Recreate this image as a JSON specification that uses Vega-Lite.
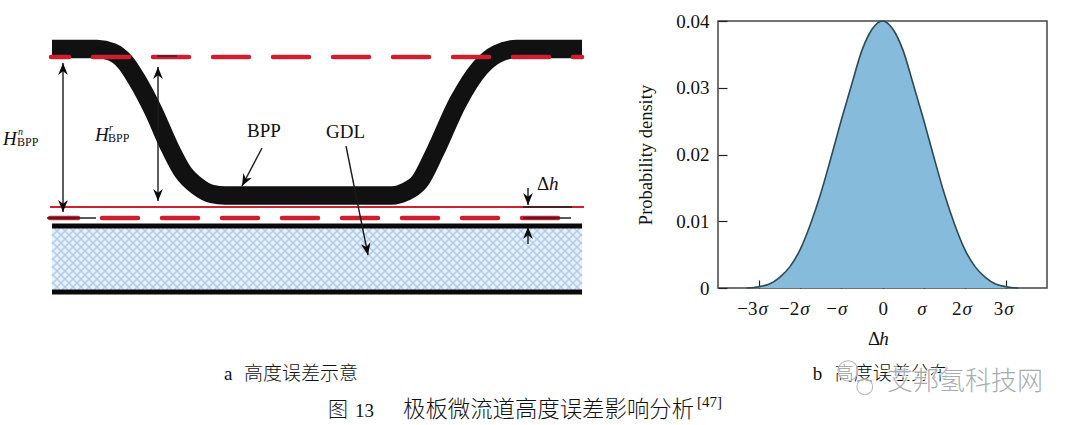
{
"$schema":"https://vega.github.io/schema/vega-lite/v6.json",
"background":"white",
"padding":{"left":0,"top":11,"right":0,"bottom":0},
"bounds":"flush",
"spacing":0,
"config":{"font":"Liberation Serif","view":{"continuousWidth":300}},
"datasets":{"hatch":[{"a":0.4,"b":12.8},{"a":2,"b":14.4},{"a":3.6,"b":16},{"a":5.2,"b":17.6},{"a":6.8,"b":19.2},{"a":8.4,"b":20.8},{"a":10,"b":22.4},{"a":11.6,"b":24},{"a":13.2,"b":25.6},{"a":14.8,"b":27.2},{"a":16.4,"b":28.8},{"a":18,"b":30.4},{"a":19.6,"b":32},{"a":21.2,"b":33.6},{"a":22.8,"b":35.2},{"a":24.4,"b":36.8},{"a":26,"b":38.4},{"a":27.6,"b":40},{"a":29.2,"b":41.6},{"a":30.8,"b":43.2},{"a":32.4,"b":44.8},{"a":34,"b":46.4},{"a":35.6,"b":48},{"a":37.2,"b":49.6},{"a":38.8,"b":51.2},{"a":40.4,"b":52.8},{"a":42,"b":54.4},{"a":43.6,"b":56},{"a":45.2,"b":57.6},{"a":46.8,"b":59.2},{"a":48.4,"b":60.8},{"a":50,"b":62.4},{"a":51.6,"b":64},{"a":53.2,"b":65.6},{"a":54.8,"b":67.2},{"a":56.4,"b":68.8},{"a":58,"b":70.4},{"a":59.6,"b":72},{"a":61.2,"b":73.6},{"a":62.8,"b":75.2},{"a":64.4,"b":76.8},{"a":66,"b":78.4},{"a":67.6,"b":80},{"a":69.2,"b":81.6},{"a":70.8,"b":83.2},{"a":72.4,"b":84.8},{"a":74,"b":86.4},{"a":75.6,"b":88},{"a":77.2,"b":89.6},{"a":78.8,"b":91.2},{"a":80.4,"b":92.8},{"a":82,"b":94.4},{"a":83.6,"b":96},{"a":85.2,"b":97.6},{"a":86.8,"b":99.2},{"a":88.4,"b":100.8},{"a":90,"b":102.4},{"a":91.6,"b":104},{"a":93.2,"b":105.6}]},
"hconcat":[
{"width":718,"height":267,"view":{"stroke":null},
"encoding":{
"x":{"type":"quantitative","scale":{"domain":[-10.4,133.2],"nice":false,"zero":false},"axis":null},
"y":{"type":"quantitative","scale":{"domain":[0,89],"nice":false,"zero":false},"axis":null}},
"layer":[
{"data":{"values":[{"a":0,"b":106,"lo":-0.67,"hi":20}]},"mark":{"type":"rect","color":"#e8f0fa"},
"encoding":{"x":{"field":"a","type":"quantitative"},"x2":{"field":"b"},"y":{"field":"lo","type":"quantitative"},"y2":{"field":"hi"}}},
{"data":{"name":"hatch"},"mark":{"type":"rule","color":"#b2ccee","strokeWidth":1.5},
"encoding":{"x":{"field":"a","type":"quantitative"},"x2":{"field":"b"},"y":{"datum":-0.67,"type":"quantitative"},"y2":{"datum":20}}},
{"data":{"name":"hatch"},"mark":{"type":"rule","color":"#b2ccee","strokeWidth":1.5},
"encoding":{"x":{"field":"a","type":"quantitative"},"x2":{"field":"b"},"y":{"datum":20,"type":"quantitative"},"y2":{"datum":-0.67}}},
{"data":{"values":[{"a":0,"lo":17.33,"b":1.6,"hi":20},{"a":0,"lo":14.67,"b":3.2,"hi":20},{"a":0,"lo":12,"b":4.8,"hi":20},{"a":0,"lo":9.33,"b":6.4,"hi":20},{"a":0,"lo":6.67,"b":8,"hi":20},{"a":0,"lo":4,"b":9.6,"hi":20},{"a":0,"lo":1.33,"b":11.2,"hi":20},
{"a":94.8,"lo":-0.67,"b":106,"hi":18},{"a":96.4,"lo":-0.67,"b":106,"hi":15.33},{"a":98,"lo":-0.67,"b":106,"hi":12.67},{"a":99.6,"lo":-0.67,"b":106,"hi":10},{"a":101.2,"lo":-0.67,"b":106,"hi":7.33},{"a":102.8,"lo":-0.67,"b":106,"hi":4.67},{"a":104.4,"lo":-0.67,"b":106,"hi":2},
{"a":0,"lo":2,"b":1.6,"hi":-0.67},{"a":0,"lo":4.66,"b":3.2,"hi":-0.67},{"a":0,"lo":7.33,"b":4.8,"hi":-0.67},{"a":0,"lo":10,"b":6.4,"hi":-0.67},{"a":0,"lo":12.66,"b":8,"hi":-0.67},{"a":0,"lo":15.33,"b":9.6,"hi":-0.67},{"a":0,"lo":18,"b":11.2,"hi":-0.67},
{"a":94.8,"lo":20,"b":106,"hi":1.33},{"a":96.4,"lo":20,"b":106,"hi":4},{"a":98,"lo":20,"b":106,"hi":6.66},{"a":99.6,"lo":20,"b":106,"hi":9.33},{"a":101.2,"lo":20,"b":106,"hi":12},{"a":102.8,"lo":20,"b":106,"hi":14.66},{"a":104.4,"lo":20,"b":106,"hi":17.33}]},
"mark":{"type":"rule","color":"#b2ccee","strokeWidth":1.5},
"encoding":{"x":{"field":"a","type":"quantitative"},"x2":{"field":"b"},"y":{"field":"lo","type":"quantitative"},"y2":{"field":"hi"}}},
{"data":{"values":[{"a":0,"b":106,"y":20.67},{"a":0,"b":106,"y":-1.33}]},"mark":{"type":"rule","color":"#0a0a0a","strokeWidth":5},
"encoding":{"x":{"field":"a","type":"quantitative"},"x2":{"field":"b"},"y":{"field":"y","type":"quantitative"}}},
{"data":{"values":[{"u":0,"v":79.67},{"u":9,"v":79.67},{"u":12,"v":78.67},{"u":14.6,"v":75.33},{"u":17,"v":69.33},{"u":20.2,"v":59.33},{"u":23.6,"v":46.67},{"u":26.2,"v":38.67},{"u":29,"v":34},{"u":32,"v":31.33},{"u":34.6,"v":30.83},{"u":68,"v":30.83},{"u":70.6,"v":32},{"u":73.6,"v":35.67},{"u":76.6,"v":45.33},{"u":81.2,"v":62},{"u":85.6,"v":73.33},{"u":89,"v":78},{"u":93,"v":79.67},{"u":106,"v":79.67}]},
"mark":{"type":"line","color":"#111111","strokeWidth":18.5,"interpolate":"monotone","strokeCap":"butt"},
"encoding":{"x":{"field":"u","type":"quantitative"},"y":{"field":"v","type":"quantitative"}}},
{"data":{"values":[{"a":-0.4,"b":106.4,"y":27}]},"mark":{"type":"rule","color":"#d0202e","strokeWidth":2},
"encoding":{"x":{"field":"a","type":"quantitative"},"x2":{"field":"b"},"y":{"field":"y","type":"quantitative"}}},
{"data":{"values":[{"a":-0.2,"b":106,"y":77}]},"mark":{"type":"rule","color":"#cc1f30","strokeWidth":4.5,"strokeCap":"round","strokeDash":[36,24],"strokeDashOffset":18},
"encoding":{"x":{"field":"a","type":"quantitative"},"x2":{"field":"b"},"y":{"field":"y","type":"quantitative"}}},
{"data":{"values":[{"a":-0.4,"b":102.2,"y":23.33}]},"mark":{"type":"rule","color":"#cc1f30","strokeWidth":4.5,"strokeCap":"round","strokeDash":[36,24],"strokeDashOffset":8},
"encoding":{"x":{"field":"a","type":"quantitative"},"x2":{"field":"b"},"y":{"field":"y","type":"quantitative"}}},
{"data":{"values":[{"a":21,"b":25,"y":77.33},{"a":-1,"b":8.8,"y":23.33},{"a":94.2,"b":103.8,"y":23.33},{"a":94.2,"b":104,"y":27}]},"mark":{"type":"rule","color":"#222222","strokeWidth":1.3},
"encoding":{"x":{"field":"a","type":"quantitative"},"x2":{"field":"b"},"y":{"field":"y","type":"quantitative"}}},
{"data":{"values":[{"a":2.2,"b":2.2,"lo":75,"hi":25.33},{"a":21.2,"b":21.2,"lo":73.67,"hi":29},{"a":42,"b":38,"lo":46.67,"hi":34},{"a":58.8,"b":63.2,"lo":47.33,"hi":11},{"a":95.2,"b":95.2,"lo":33.33,"hi":27.67},{"a":95.2,"b":95.2,"lo":14.67,"hi":20.33}]},"mark":{"type":"rule","color":"#1a1a1a","strokeWidth":1.4},
"encoding":{"x":{"field":"a","type":"quantitative"},"x2":{"field":"b"},"y":{"field":"lo","type":"quantitative"},"y2":{"field":"hi"}}},
{"data":{"values":[{"u":2.2,"v":75,"heading":0},{"u":2.2,"v":25.33,"heading":180},{"u":21.2,"v":73.67,"heading":0},{"u":21.2,"v":29,"heading":180},{"u":38,"v":34,"heading":208},{"u":63.2,"v":11,"heading":168.6},{"u":95.2,"v":27.67,"heading":180},{"u":95.2,"v":20.33,"heading":0}]},
"mark":{"type":"point","shape":"M0,0 L0.65,1.6 L0,1.1 L-0.65,1.6 Z","filled":true,"color":"#0a0a0a","opacity":1,"size":225},
"encoding":{"x":{"field":"u","type":"quantitative"},"y":{"field":"v","type":"quantitative"},"angle":{"field":"heading","type":"quantitative","scale":null}}},
{"data":{"values":[{"u":39,"v":50.33,"t":"BPP"},{"u":54.8,"v":50,"t":"GDL"},{"u":97,"v":32.67,"t":"Δ"}]},"mark":{"type":"text","font":"Liberation Serif","fontSize":19,"align":"left","baseline":"alphabetic","color":"#111"},
"encoding":{"x":{"field":"u","type":"quantitative"},"y":{"field":"v","type":"quantitative"},"text":{"field":"t"}}},
{"data":{"values":[{"u":-9.8,"v":47.67,"t":"H"},{"u":8.6,"v":49,"t":"H"},{"u":99.4,"v":32.67,"t":"h"}]},"mark":{"type":"text","font":"Liberation Serif","fontStyle":"italic","fontSize":19,"align":"left","baseline":"alphabetic","color":"#111"},
"encoding":{"x":{"field":"u","type":"quantitative"},"y":{"field":"v","type":"quantitative"},"text":{"field":"t"}}},
{"data":{"values":[{"u":-6.8,"v":51,"t":"n"},{"u":11.4,"v":52.33,"t":"r"}]},"mark":{"type":"text","font":"Liberation Serif","fontStyle":"italic","fontSize":10,"align":"left","baseline":"alphabetic","color":"#111"},
"encoding":{"x":{"field":"u","type":"quantitative"},"y":{"field":"v","type":"quantitative"},"text":{"field":"t"}}},
{"data":{"values":[{"u":-7,"v":47.33,"t":"BPP"},{"u":11.2,"v":48.67,"t":"BPP"}]},"mark":{"type":"text","font":"Liberation Serif","fontSize":12,"align":"left","baseline":"alphabetic","color":"#111"},
"encoding":{"x":{"field":"u","type":"quantitative"},"y":{"field":"v","type":"quantitative"},"text":{"field":"t"}}},
{"data":{"values":[{"u":34.4,"v":-30.67,"t":"a"},{"u":60.6,"v":-43,"t":"13"}]},"mark":{"type":"text","font":"Liberation Serif","fontSize":19,"align":"left","baseline":"alphabetic","color":"#111"},
"encoding":{"x":{"field":"u","type":"quantitative"},"y":{"field":"v","type":"quantitative"},"text":{"field":"t"}}},
{"data":{"values":[{"u":129,"v":-39.67,"t":"[47]"}]},"mark":{"type":"text","font":"Liberation Serif","fontSize":15,"align":"left","baseline":"alphabetic","color":"#111"},
"encoding":{"x":{"field":"u","type":"quantitative"},"y":{"field":"v","type":"quantitative"},"text":{"field":"t"}}},
{"data":{"values":[{"u":38.4,"v":-30.67,"t":"高度误差示意","s":19},{"u":55.2,"v":-43,"t":"图","s":20},{"u":70.2,"v":-43,"t":"极板微流道高度误差影响分析","s":22.4}]},"mark":{"type":"text","font":"Noto Sans CJK SC","fontWeight":300,"align":"left","baseline":"alphabetic","color":"#111"},
"encoding":{"x":{"field":"u","type":"quantitative"},"y":{"field":"v","type":"quantitative"},"text":{"field":"t"},"size":{"field":"s","type":"quantitative","scale":null}}}
]},
{"width":329,"height":267,"view":{"stroke":"#444444","strokeWidth":1.5},
"encoding":{
"x":{"type":"quantitative","scale":{"domain":[-4,4],"nice":false,"zero":false},"axis":{"values":[-3,-2,-1,0,1,2,3],"labels":false,"domain":false,"grid":false,"tickSize":-8,"tickColor":"#222","tickWidth":1.2,"title":null}},
"y":{"type":"quantitative","scale":{"domain":[0,0.04],"nice":false,"zero":false},"axis":{"values":[0,0.01,0.02,0.03,0.04],"labelExpr":"datum.value==0?'0':format(datum.value,'.2f')","domain":false,"grid":false,"tickSize":-9,"tickColor":"#222","tickWidth":1.2,"labelFont":"Liberation Serif","labelFontSize":19,"labelColor":"#111","labelPadding":18,"title":"Probability density","titleFont":"Liberation Serif","titleFontSize":18.5,"titleFontWeight":"normal","titleColor":"#111","titlePadding":20}}},
"layer":[
{"data":{"name":"curve","values":[{"d":-3.3,"p":0},{"d":-3,"p":0.0002},{"d":-2.75,"p":0.0006},{"d":-2.5,"p":0.0016},{"d":-2.25,"p":0.0032},{"d":-2,"p":0.0058},{"d":-1.75,"p":0.0096},{"d":-1.5,"p":0.0142},{"d":-1.25,"p":0.0196},{"d":-1,"p":0.0252},{"d":-0.75,"p":0.0305},{"d":-0.5,"p":0.0356},{"d":-0.25,"p":0.0388},{"d":0,"p":0.04},{"d":0.25,"p":0.0388},{"d":0.5,"p":0.0356},{"d":0.75,"p":0.0305},{"d":1,"p":0.0252},{"d":1.25,"p":0.0196},{"d":1.5,"p":0.0142},{"d":1.75,"p":0.0096},{"d":2,"p":0.0058},{"d":2.25,"p":0.0032},{"d":2.5,"p":0.0016},{"d":2.75,"p":0.0006},{"d":3,"p":0.0002},{"d":3.3,"p":0}]},
"mark":{"type":"area","color":"#87bbdb","opacity":1,"interpolate":"monotone","line":{"color":"#2c4a56","strokeWidth":1.6}},
"encoding":{"x":{"field":"d","type":"quantitative"},"y":{"field":"p","type":"quantitative"}}},
{"data":{"values":[{"d":-3.016,"p":-0.00404,"t":"−3"},{"d":-2,"p":-0.00404,"t":"−2"},{"d":-1.08,"p":-0.00404,"t":"−"},{"d":1.943,"p":-0.00404,"t":"2"},{"d":2.96,"p":-0.00404,"t":"3"}]},
"mark":{"type":"text","font":"Liberation Serif","fontSize":19,"align":"right","baseline":"alphabetic","dx":-1,"color":"#111"},
"encoding":{"x":{"field":"d","type":"quantitative"},"y":{"field":"p","type":"quantitative"},"text":{"field":"t"}}},
{"data":{"values":[{"d":0.02,"p":-0.00404,"t":"0"}]},
"mark":{"type":"text","font":"Liberation Serif","fontSize":19,"align":"center","baseline":"alphabetic","color":"#111"},
"encoding":{"x":{"field":"d","type":"quantitative"},"y":{"field":"p","type":"quantitative"},"text":{"field":"t"}}},
{"data":{"values":[{"d":-3.016,"p":-0.00404,"t":"σ"},{"d":-2,"p":-0.00404,"t":"σ"},{"d":-1.08,"p":-0.00404,"t":"σ"},{"d":0.846,"p":-0.00404,"t":"σ"},{"d":1.943,"p":-0.00404,"t":"σ"},{"d":2.96,"p":-0.00404,"t":"σ"}]},
"mark":{"type":"text","font":"Liberation Serif","fontStyle":"italic","fontSize":19,"align":"left","baseline":"alphabetic","color":"#111"},
"encoding":{"x":{"field":"d","type":"quantitative"},"y":{"field":"p","type":"quantitative"},"text":{"field":"t"}}},
{"data":{"values":[{"d":-0.35,"p":-0.00854,"t":"Δ"},{"d":-1.695,"p":-0.0138,"t":"b"}]},
"mark":{"type":"text","font":"Liberation Serif","fontSize":19,"align":"left","baseline":"alphabetic","color":"#111"},
"encoding":{"x":{"field":"d","type":"quantitative"},"y":{"field":"p","type":"quantitative"},"text":{"field":"t"}}},
{"data":{"values":[{"d":-0.08,"p":-0.00854,"t":"h"}]},
"mark":{"type":"text","font":"Liberation Serif","fontStyle":"italic","fontSize":19,"align":"left","baseline":"alphabetic","color":"#111"},
"encoding":{"x":{"field":"d","type":"quantitative"},"y":{"field":"p","type":"quantitative"},"text":{"field":"t"}}},
{"data":{"values":[{"d":-1.159,"p":-0.0138,"t":"高度误差分布"}]},
"mark":{"type":"text","font":"Noto Sans CJK SC","fontWeight":300,"fontSize":19,"align":"left","baseline":"alphabetic","color":"#111"},
"encoding":{"x":{"field":"d","type":"quantitative"},"y":{"field":"p","type":"quantitative"},"text":{"field":"t"}}},
{"data":{"values":[{"d":-0.84,"p":-0.0124,"s":400},{"d":-0.43,"p":-0.0148,"s":250}]},
"mark":{"type":"point","shape":"circle","filled":true,"fill":"white","fillOpacity":0.55,"stroke":"#b5b8bb","strokeWidth":1.1},
"encoding":{"x":{"field":"d","type":"quantitative"},"y":{"field":"p","type":"quantitative"},"size":{"field":"s","type":"quantitative","scale":null}}},
{"data":{"values":[{"d":0.11,"p":-0.0153,"t":"艾邦氢科技网"}]},
"mark":{"type":"text","font":"Noto Sans CJK SC","fontWeight":300,"fontSize":26,"align":"left","baseline":"alphabetic","stroke":"white","strokeWidth":2.5,"strokeOpacity":0.8,"fill":"white"},
"encoding":{"x":{"field":"d","type":"quantitative"},"y":{"field":"p","type":"quantitative"},"text":{"field":"t"}}},
{"data":{"values":[{"d":0.11,"p":-0.0153,"t":"艾邦氢科技网"}]},
"mark":{"type":"text","font":"Noto Sans CJK SC","fontWeight":300,"fontSize":26,"align":"left","baseline":"alphabetic","color":"#a9acaf"},
"encoding":{"x":{"field":"d","type":"quantitative"},"y":{"field":"p","type":"quantitative"},"text":{"field":"t"}}}
]}
]}
